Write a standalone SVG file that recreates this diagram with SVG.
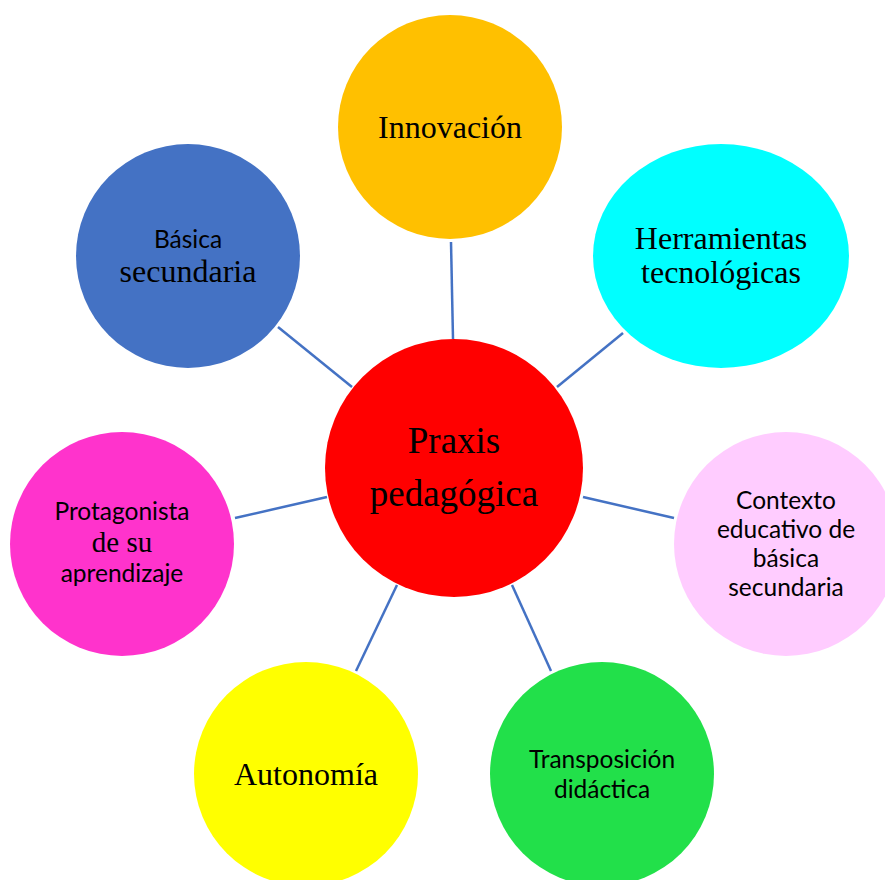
<svg xmlns="http://www.w3.org/2000/svg" width="885" height="880" viewBox="0 0 885 880">
<style>
.ser{font-family:"Liberation Serif","Times New Roman",serif;fill:#000;text-anchor:middle;font-size:32px}
.san{font-family:Lato,"Open Sans",sans-serif;fill:#000;text-anchor:middle;font-size:24.5px}
.con{stroke:#4472C4;stroke-width:2.5;fill:none}
</style>
<rect width="885" height="880" fill="#fff"/>
<g id="connectors">
<line class="con" x1="451" y1="242" x2="453" y2="339"/>
<line class="con" x1="278" y1="327" x2="352" y2="387"/>
<line class="con" x1="623" y1="333" x2="557" y2="387"/>
<line class="con" x1="235" y1="518" x2="327" y2="497"/>
<line class="con" x1="583" y1="497" x2="674" y2="518"/>
<line class="con" x1="397" y1="585" x2="356" y2="671"/>
<line class="con" x1="512" y1="585" x2="551" y2="671"/>
</g>
<g id="praxis">
<circle cx="454" cy="468" r="129" fill="#FF0000"/>
<text class="ser" x="454" y="453" style="font-size:37px">Praxis</text>
<text class="ser" x="454" y="506" style="font-size:37px">pedagógica</text>
</g>
<g id="innovacion">
<circle cx="450" cy="127" r="112" fill="#FFC000"/>
<text class="ser" x="450" y="138">Innovación</text>
</g>
<g id="basica">
<circle cx="188" cy="256" r="112" fill="#4472C4"/>
<text class="san" x="188" y="248">Básica</text>
<text class="ser" x="188" y="282">secundaria</text>
</g>
<g id="herramientas">
<ellipse cx="721" cy="256" rx="128" ry="112" fill="#00FFFF"/>
<text class="ser" x="721" y="249">Herramientas</text>
<text class="ser" x="721" y="283">tecnológicas</text>
</g>
<g id="protagonista">
<circle cx="122" cy="544" r="112" fill="#FF33CC"/>
<text class="san" x="122" y="520">Protagonista</text>
<text class="ser" x="122" y="552" style="font-size:29px">de su</text>
<text class="san" x="122" y="582">aprendizaje</text>
</g>
<g id="contexto">
<circle cx="786" cy="544" r="112" fill="#FFCCFF"/>
<text class="san" x="786" y="509">Contexto</text>
<text class="san" x="786" y="538">educativo de</text>
<text class="san" x="786" y="567">básica</text>
<text class="san" x="786" y="596">secundaria</text>
</g>
<g id="autonomia">
<circle cx="306" cy="774" r="112" fill="#FFFF00"/>
<text class="ser" x="306" y="785">Autonomía</text>
</g>
<g id="transposicion">
<circle cx="602" cy="774" r="112" fill="#22E04A"/>
<text class="san" x="602" y="768">Transposición</text>
<text class="san" x="602" y="798">didáctica</text>
</g>
</svg>
